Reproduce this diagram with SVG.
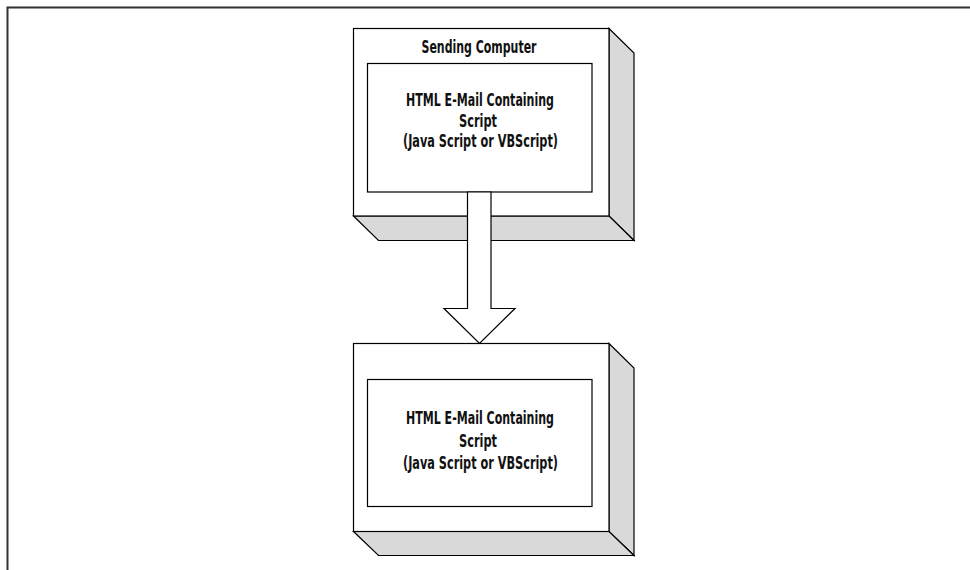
<svg xmlns="http://www.w3.org/2000/svg" width="970" height="570" viewBox="0 0 970 570">
  <style>
    .face{fill:#ffffff;stroke:#000;stroke-width:1.2}
    .side{fill:#d9d9d9;stroke:#000;stroke-width:1.2;stroke-linejoin:miter}
    .inner{fill:#ffffff;stroke:#000;stroke-width:1.2}
    .t{font-family:"Liberation Sans Narrow","DejaVu Sans Condensed","Liberation Sans",sans-serif;font-size:18px;font-weight:bold;fill:#111;text-anchor:middle}
    .title{font-size:17px}
    .frame{fill:none;stroke:#333;stroke-width:2}
  </style>
  <rect width="970" height="570" fill="#fff"/>
  <path class="frame" d="M7.5,570 V7.5 H970"/>
  <g id="sending-computer">
    <polygon class="side" points="609,28.5 634,53 634,240.5 609,216"/>
    <polygon class="side" points="353.5,216 609,216 634,240.5 378.5,240.5"/>
    <rect class="face" x="353.5" y="28.5" width="255.5" height="187.5"/>
    <text class="t title" x="479" y="52.5" textLength="115" lengthAdjust="spacingAndGlyphs">Sending Computer</text>
    <g id="email-1">
      <rect class="inner" x="367.5" y="63.5" width="224.5" height="128.5"/>
      <text class="t" x="480" y="106" textLength="148" lengthAdjust="spacingAndGlyphs">HTML E-Mail Containing</text>
      <text class="t" x="478" y="126.5" textLength="38" lengthAdjust="spacingAndGlyphs">Script</text>
      <text class="t" x="480.5" y="147" textLength="155" lengthAdjust="spacingAndGlyphs">(Java Script or VBScript)</text>
    </g>
  </g>
  <g id="receiving-computer">
    <polygon class="side" points="609,343.5 634,368 634,555.5 609,531.5"/>
    <polygon class="side" points="353.5,531.5 609,531.5 634,555.5 378.5,555.5"/>
    <rect class="face" x="353.5" y="343.5" width="255.5" height="188"/>
    <g id="email-2">
      <rect class="inner" x="367.5" y="379.5" width="224.5" height="127"/>
      <text class="t" x="480" y="424" textLength="148" lengthAdjust="spacingAndGlyphs">HTML E-Mail Containing</text>
      <text class="t" x="478" y="446.5" textLength="38" lengthAdjust="spacingAndGlyphs">Script</text>
      <text class="t" x="480.5" y="469" textLength="155" lengthAdjust="spacingAndGlyphs">(Java Script or VBScript)</text>
    </g>
  </g>
  <g id="connectors">
    <polygon class="face" points="467.5,192 491,192 491,308.5 515,308.5 479.5,343.5 444,308.5 467.5,308.5"/>
  </g>
</svg>
